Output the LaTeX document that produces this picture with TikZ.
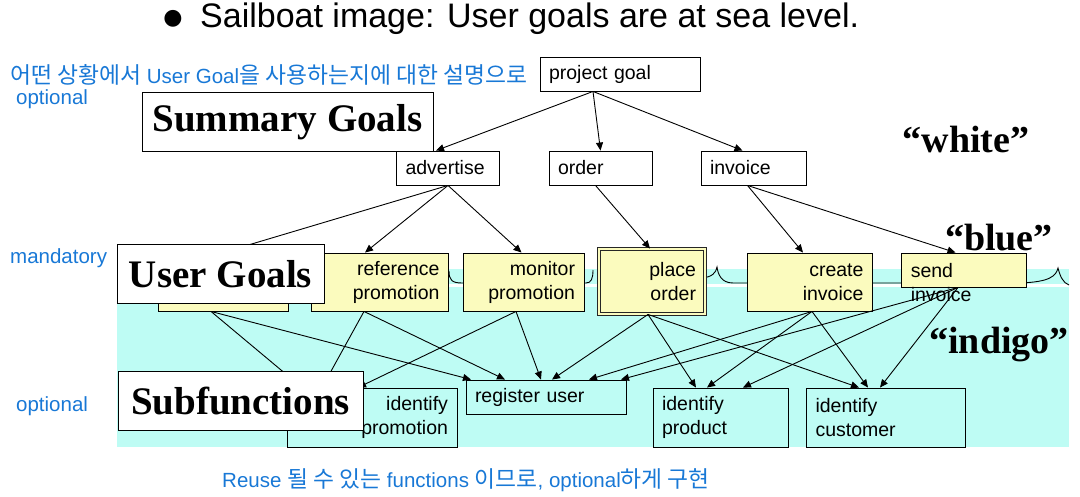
\documentclass[tikz,border=0pt]{standalone}
\usepackage{fontspec}
\setmainfont{Liberation Sans}
\newfontfamily\tnr{Liberation Serif}
\newfontfamily\kr{Noto Sans CJK KR}
\newfontfamily\sym{DejaVu Sans}
\usetikzlibrary{arrows.meta}

\definecolor{sea}{RGB}{190,252,244}
\definecolor{sand}{RGB}{251,251,190}
\definecolor{note}{RGB}{24,120,214}

\newcommand\goalfont{\fontsize{19.5}{24}\selectfont}
\newcommand\notefont{\fontsize{20.5}{24}\selectfont}
\newcommand\hangul{\kr\fontsize{22.8}{24}\selectfont}
\newcommand\tierfont{\tnr\bfseries\fontsize{39}{44}\selectfont}
\newcommand\skyfont{\tnr\bfseries\fontsize{38}{44}\selectfont}

\tikzset{
  box/.style={draw, line width=.9pt, fill=white, inner xsep=9pt, inner ysep=0pt, font=\goalfont, align=left},
  goal/.style={box, fill=sand, align=right},
  sub/.style={box, fill=sea},
  tier/.style={draw, line width=.9pt, fill=white, inner sep=0pt, font=\tierfont},
  note/.style={text=note, font=\notefont, inner sep=0pt, anchor=west},
  skyword/.style={font=\skyfont, inner sep=0pt},
  link/.style={-{Triangle[length=8pt,width=7pt]}, line width=.9pt},
}

\begin{document}
\begin{tikzpicture}[x=1pt,y=-1pt]
	\useasboundingbox (0,0) rectangle (1080,497);

	% the sea
	\fill[sea] (117,269) rectangle (1069,447);
	\fill[white] (117,284.5) rectangle (1069,287.5);
	\draw[line width=.9pt] (449,271) .. controls (449,280) and (452,283) .. (462,283) -- (586,283) .. controls (591,283) and (593,279) .. (593,270);
	\draw[line width=.9pt] (702,278) .. controls (712,277) and (716,273) .. (717,267) .. controls (718,274) and (721,283) .. (733,283) -- (1020,283) .. controls (1050,282) and (1056,276) .. (1058,268) .. controls (1060,276) and (1063,283) .. (1069,285);

	% headline and notes
	\node[font=\sym\fontsize{22}{24}\selectfont, inner sep=0pt] (dot) at (173,19) {●};
	\node[font=\fontsize{34}{40}\selectfont, inner sep=0pt, anchor=west] (title) at (200,19) {Sailboat image: User goals are at sea level.};
	\node[note] (why) at (10,75) {{\hangul 어떤 상황에서} User Goal{\hangul 을 사용하는지에 대한 설명으로}};
	\node[note] (opt1) at (16,99) {optional};
	\node[note] (must) at (10,258) {mandatory};
	\node[note] (opt2) at (16,406) {optional};
	\node[note] (reuse) at (222,480) {Reuse {\hangul 될 수 있는} functions {\hangul 이므로}, optional{\hangul 하게 구현}};

	\node[skyword] (white) at (966,140) {“white”};
	\node[skyword] (blue) at (999,238) {“blue”};
	\node[skyword] (indigo) at (999,345) {“indigo”};

	% summary goals
	\node[box, text width=142pt, minimum height=34pt] (pgoal) at (620,74) {project goal};
	\node[box, text width=85pt, minimum height=34pt] (advert) at (448,168) {advertise};
	\node[box, text width=85pt, minimum height=34pt] (order) at (600.5,168) {order};
	\node[box, text width=87pt, minimum height=34pt] (invoice) at (753.5,168) {invoice};

	% user goals
	\node[goal, text width=112pt, minimum height=58pt] (firstg) at (223,282) {};
	\node[goal, text width=119pt, minimum height=58pt] (refpromo) at (380,282) {reference\\promotion};
	\node[goal, text width=103pt, minimum height=58pt] (monpromo) at (523.5,282) {monitor\\promotion};
	\node[goal, text width=88pt, minimum height=65pt, draw=black!85, double=sand, double distance=1.4pt] (place) at (652,281.5) {place\\order};
	\node[goal, text width=107pt, minimum height=58pt] (create) at (810,282) {create\\invoice};
	\node[goal, text width=107pt, minimum height=34pt] (send) at (963.5,270) {};
	\node[font=\goalfont, align=left, inner sep=0pt, anchor=north west] (sendtxt) at ([xshift=10pt,yshift=-11pt]send.north west) {send\\invoice};

	% subfunctions
	\node[sub, text width=152pt, minimum height=59pt, align=right] (idpromo) at (372,417.5) {identify\\promotion};
	\node[sub, text width=142pt, minimum height=34pt] (reguser) at (546,397) {register user};
	\node[sub, text width=117pt, minimum height=59pt] (idproduct) at (720.5,417.5) {identify\\product};
	\node[sub, text width=141pt, minimum height=59pt] (idcustomer) at (886,417.5) {identify\\customer};

	\foreach \from/\sx/\to/\tx in {pgoal/-27/advert/-12, pgoal/-27/order/0, pgoal/-27/invoice/-11,
		advert/0/firstg/0, advert/0/refpromo/-15, advert/0/monpromo/-2,
		order/-5/place/-2, invoice/-6/create/-7, invoice/-6/send/-8,
		firstg/-12/idpromo/-70, firstg/-12/reguser/-75,
		refpromo/-16/idpromo/-50, refpromo/-16/reguser/-41,
		monpromo/-7.5/idpromo/-14, monpromo/-7.5/reguser/-5,
		place/-4/reguser/6, place/-4/idproduct/-24.5, place/-4/idcustomer/-27,
		create/2/reguser/43, create/2/idproduct/-13.5, create/2/idcustomer/-18,
		send/-5.5/reguser/75, send/-5.5/idproduct/22.5, send/-5.5/idcustomer/-6}
		\draw[link] ([xshift=\sx pt]\from.south) -- ([xshift=\tx pt]\to.north);

	% level tags
	\node[tier, minimum width=291pt, minimum height=59pt] (sumtag) at (287.5,122) {Summary Goals};
	\node[tier, minimum width=207pt, minimum height=59pt] (usertag) at (220.5,274) {User Goals};
	\node[tier, minimum width=245pt, minimum height=59pt] (subtag) at (240.5,401) {Subfunctions};
\end{tikzpicture}
\end{document}
